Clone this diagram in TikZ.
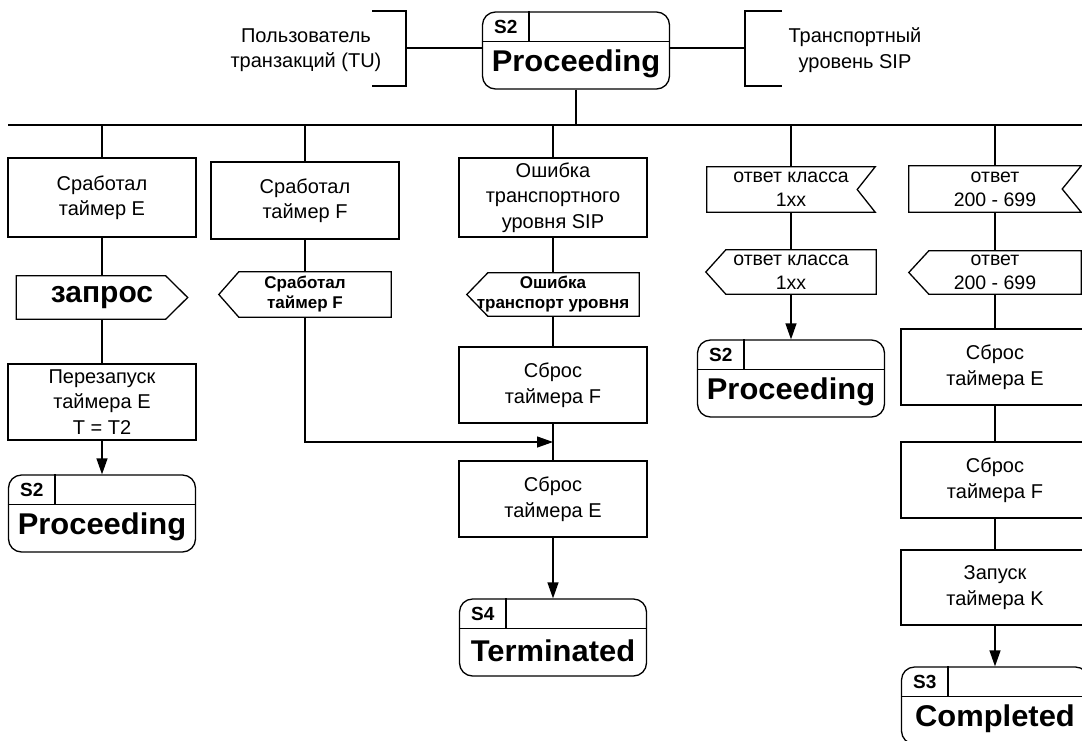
\documentclass[tikz,border=0pt]{standalone}
\usepackage{fontspec}
\setmainfont{Liberation Sans}
\usepackage{graphicx}
\usetikzlibrary{arrows.meta,calc}

\newcommand{\boxfont}{\fontsize{20}{25.5}\selectfont}
\newcommand{\sigfont}{\fontsize{19.5}{24}\selectfont}
\newcommand{\smbold}{\bfseries\fontsize{17}{20}\selectfont}
\newcommand{\labfont}{\bfseries\fontsize{19}{21}\selectfont}
\newcommand{\bigbold}{\bfseries\fontsize{30}{32}\selectfont}
\newcommand{\stname}[1]{{\bfseries\fontsize{30}{32}\selectfont\scalebox{1.03}[1]{#1}}}

\tikzset{
  ln/.style={line width=1.3pt},
  boxn/.style={draw, line width=1.3pt, rectangle, minimum width=188pt, inner sep=0pt, align=center, font=\boxfont},
  sign/.style={inner sep=0pt, align=center, minimum height=44pt},
  statebox/.style={draw, line width=1.3pt, rounded corners=13pt, minimum width=187pt, minimum height=77pt, inner sep=0pt},
  arr/.style={line width=1.3pt, -{Triangle[length=16pt,width=11pt]}},
}

\newcommand{\stateparts}[3]{%
  \draw[ln] ($(#1.north west)+(0,30)$) -- ($(#1.north east)+(0,30)$);
  \draw[ln] ($(#1.north west)+(47,0)$) -- ($(#1.north west)+(47,30)$);
  \node[font=\labfont] (#1-id) at ($(#1.north west)+(24,15.5)$) {#2};
  \node[inner sep=0pt] (#1-nm) at ($(#1.north)+(0,52)$) {\stname{#3}};
}
\newcommand{\mySigOut}[2]{\draw[ln] (#1.north west) -- ($(#1.north east)+(-#2,0)$) -- (#1.east) -- ($(#1.south east)+(-#2,0)$) -- (#1.south west) -- cycle;}
\newcommand{\mySigIn}[2]{\draw[ln] (#1.north east) -- ($(#1.north west)+(#2,0)$) -- (#1.west) -- ($(#1.south west)+(#2,0)$) -- (#1.south east) -- cycle;}
\newcommand{\mySigFlag}[2]{\draw[ln] (#1.north west) -- (#1.north east) -- ($(#1.east)+(-#2,0)$) -- (#1.south east) -- (#1.south west) -- cycle;}

\begin{document}
\begin{tikzpicture}[x=1pt,y=-1pt]
\clip (0,0) rectangle (1082,740);
\fill[white] (0,0) rectangle (1082,740);

% ---- top
\node[statebox] (top) at (576,50.5) {};
\stateparts{top}{S2}{Proceeding}
\coordinate (lb) at (406,48);
\coordinate (rb) at (745,48);
\draw[ln] (372,11) -- (406,11) -- (406,86) -- (372,86);
\draw[ln] (782,11) -- (745,11) -- (745,86) -- (782,86);
\draw[ln] (lb) -- (lb -| top.west);
\draw[ln] (rb) -- (rb -| top.east);
\node[font=\boxfont, align=center] (tu) at (306,50) {Пользователь\\транзакций (TU)};
\node[font=\boxfont, align=center] (tl) at (855,50) {Транспортный\\уровень SIP};

\coordinate (busL) at (8,125);
\coordinate (busR) at (1082,125);
\draw[ln] (busL) -- (busR);
\draw[ln] (top.south) -- (top.south |- busL);

% ---- column 1
\node[boxn, minimum height=79pt] (e1) at (102,197.5) {Сработал\\таймер E};
\node[sign, minimum width=171pt, minimum height=43pt, font=\bigbold] (e2) at (102,297.5) {запрос};
\mySigOut{e2}{22}
\node[boxn, minimum height=76pt] (e3) at (102,402) {Перезапуск\\таймера E\\T = T2};
\node[statebox] (e4) at (102,513.5) {};
\stateparts{e4}{S2}{Proceeding}
\draw[ln] (e1.north) -- (e1.north |- busL);
\draw[ln] (e1.south) -- (e2.north);
\draw[ln] (e2.south) -- (e3.north);
\draw[arr] (e3.south) -- (e4.north);

% ---- column 2
\node[boxn, minimum height=77pt] (f1) at (305,200.5) {Сработал\\таймер F};
\node[sign, minimum width=172pt, minimum height=45pt, font=\smbold] (f2) at (305,294.5) {Сработал\\таймер F};
\mySigIn{f2}{20}
\draw[ln] (f1.north) -- (f1.north |- busL);
\draw[ln] (f1.south) -- (f2.north);
\coordinate (join) at (553,442);
\draw[arr] (f2.south) |- (join);

% ---- column 3
\node[boxn, minimum height=79pt] (t1) at (553,197.5) {Ошибка\\транспортного\\уровня SIP};
\node[sign, minimum width=172pt, minimum height=43pt, font=\smbold] (t2) at (553,294.5) {Ошибка\\транспорт уровня};
\mySigIn{t2}{21}
\node[boxn, minimum height=76pt] (t3) at (553,385) {Сброс\\таймера F};
\node[boxn, minimum height=76pt] (t4) at (553,499) {Сброс\\таймера E};
\node[statebox] (t5) at (553,637.5) {};
\stateparts{t5}{S4}{Terminated}
\draw[ln] (t1.north) -- (t1.north |- busL);
\draw[ln] (t1.south) -- (t2.north);
\draw[ln] (t2.south) -- (t3.north);
\draw[ln] (t3.south) -- (t4.north);
\draw[arr] (t4.south) -- (t5.north);

% ---- column 4
\node[sign, minimum width=168pt, minimum height=45pt, font=\sigfont] (r1) at (791,189.5) {ответ класса\\1xx};
\mySigFlag{r1}{18}
\node[sign, minimum width=170pt, minimum height=44pt, font=\sigfont] (r2) at (791,272) {ответ класса\\1xx};
\mySigIn{r2}{20}
\node[statebox] (r3) at (791,378.5) {};
\stateparts{r3}{S2}{Proceeding}
\draw[ln] (r1.north) -- (r1.north |- busL);
\draw[ln] (r1.south) -- (r2.north);
\draw[arr] (r2.south) -- (r3.north);

% ---- column 5
\node[sign, minimum width=172pt, minimum height=46pt, font=\sigfont] (c1) at (995,189) {ответ\\200 - 699};
\mySigFlag{c1}{19}
\node[sign, minimum width=172pt, minimum height=43pt, font=\sigfont] (c2) at (995,272.5) {ответ\\200 - 699};
\mySigIn{c2}{20}
\node[boxn, minimum height=76pt] (c3) at (995,367) {Сброс\\таймера E};
\node[boxn, minimum height=76pt] (c4) at (995,480) {Сброс\\таймера F};
\node[boxn, minimum height=75pt] (c5) at (995,587.5) {Запуск\\таймера K};
\node[statebox] (c6) at (995,705.5) {};
\stateparts{c6}{S3}{Completed}
\draw[ln] (c1.north) -- (c1.north |- busL);
\draw[ln] (c1.south) -- (c2.north);
\draw[ln] (c2.south) -- (c3.north);
\draw[ln] (c3.south) -- (c4.north);
\draw[ln] (c4.south) -- (c5.north);
\draw[arr] (c5.south) -- (c6.north);
\end{tikzpicture}
\end{document}
